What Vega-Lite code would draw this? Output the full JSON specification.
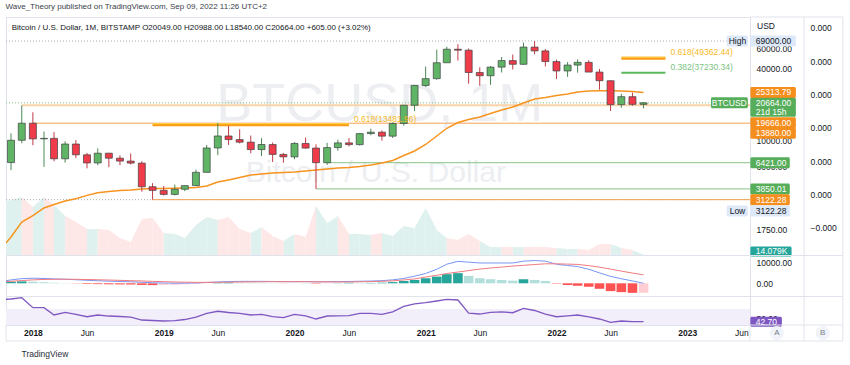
{
"$schema": "https://vega.github.io/schema/vega-lite/v6.json",
"width": 744,
"height": 308,
"autosize": {"type": "none"},
"padding": {"left": 6, "top": 17, "right": 100, "bottom": 40},
"background": "#ffffff",
"title": {"text": "Wave_Theory published on TradingView.com, Sep 09, 2022 11:26 UTC+2", "anchor": "start", "fontSize": 8, "fontWeight": "normal", "color": "#3a3e4a", "offset": 5},
"config": {"font": "Liberation Sans", "view": {"stroke": "#e0e3eb"}, "axis": {"labelFontSize": 8.5, "labelColor": "#131722", "ticks": false, "grid": false, "domain": false, "labelOverlap": false, "labelFlush": false}},
"datasets": {
"m": [
{"date":"2017-10-01","o":4360,"h":6470,"l":4110,"c":6440,"ema":1169,"vol":735,"macd":900,"sig":700,"hist":600,"rsi":90.4},
{"date":"2017-11-01","o":6440,"h":11395,"l":5555,"c":9947,"ema":1507,"vol":777,"macd":1650,"sig":1000,"hist":800,"rsi":91.5},
{"date":"2017-12-01","o":9947,"h":19666,"l":9380,"c":13880,"ema":2019,"vol":819,"macd":2300,"sig":1350,"hist":950,"rsi":94.3},
{"date":"2018-01-01","o":13880,"h":17176,"l":9035,"c":10221,"ema":2288,"vol":679,"macd":2500,"sig":1700,"hist":800,"rsi":72.8},
{"date":"2018-02-01","o":10221,"h":11789,"l":5920,"c":10326,"ema":2653,"vol":819,"macd":2400,"sig":1900,"hist":500,"rsi":72.8},
{"date":"2018-03-01","o":10326,"h":11680,"l":6605,"c":6926,"ema":2841,"vol":707,"macd":2150,"sig":2000,"hist":250,"rsi":57.1},
{"date":"2018-04-01","o":6926,"h":9759,"l":6426,"c":9246,"ema":3042,"vol":553,"macd":2000,"sig":2000,"hist":100,"rsi":62.9},
{"date":"2018-05-01","o":9246,"h":9990,"l":7032,"c":7494,"ema":3181,"vol":469,"macd":1750,"sig":1950,"hist":-100,"rsi":58.2},
{"date":"2018-06-01","o":7494,"h":7775,"l":5755,"c":6391,"ema":3393,"vol":371,"macd":1500,"sig":1850,"hist":-300,"rsi":53.4},
{"date":"2018-07-01","o":6391,"h":8488,"l":6110,"c":7730,"ema":3569,"vol":371,"macd":1250,"sig":1750,"hist":-400,"rsi":57.1},
{"date":"2018-08-01","o":7730,"h":7770,"l":5880,"c":7011,"ema":3661,"vol":357,"macd":1050,"sig":1600,"hist":-500,"rsi":54.9},
{"date":"2018-09-01","o":7011,"h":7410,"l":6123,"c":6626,"ema":3733,"vol":245,"macd":900,"sig":1450,"hist":-550,"rsi":53.9},
{"date":"2018-10-01","o":6626,"h":7680,"l":6200,"c":6371,"ema":3770,"vol":189,"macd":750,"sig":1300,"hist":-600,"rsi":52.4},
{"date":"2018-11-01","o":6371,"h":6590,"l":3652,"c":4017,"ema":3844,"vol":511,"macd":500,"sig":1150,"hist":-800,"rsi":46.3},
{"date":"2018-12-01","o":4017,"h":4310,"l":3122.28,"c":3742,"ema":3874,"vol":525,"macd":250,"sig":950,"hist":-900,"rsi":45.3},
{"date":"2019-01-01","o":3742,"h":4070,"l":3385,"c":3457,"ema":3882,"vol":315,"macd":150,"sig":800,"hist":-850,"rsi":44.2},
{"date":"2019-02-01","o":3457,"h":4190,"l":3390,"c":3823,"ema":3897,"vol":301,"macd":50,"sig":650,"hist":-700,"rsi":44.8},
{"date":"2019-03-01","o":3823,"h":4140,"l":3680,"c":4103,"ema":3920,"vol":245,"macd":100,"sig":550,"hist":-500,"rsi":47.4},
{"date":"2019-04-01","o":4103,"h":5600,"l":4080,"c":5321,"ema":3958,"vol":427,"macd":150,"sig":450,"hist":-300,"rsi":52.4},
{"date":"2019-05-01","o":5321,"h":9074,"l":5320,"c":8556,"ema":4076,"vol":539,"macd":400,"sig":450,"hist":-50,"rsi":60.8},
{"date":"2019-06-01","o":8556,"h":13880,"l":7440,"c":10817,"ema":4407,"vol":497,"macd":650,"sig":500,"hist":200,"rsi":65.1},
{"date":"2019-07-01","o":10817,"h":13150,"l":9080,"c":10081,"ema":4581,"vol":539,"macd":850,"sig":550,"hist":350,"rsi":62.5},
{"date":"2019-08-01","o":10081,"h":12320,"l":9360,"c":9588,"ema":4810,"vol":371,"macd":950,"sig":650,"hist":300,"rsi":60.8},
{"date":"2019-09-01","o":9588,"h":10920,"l":7720,"c":8294,"ema":5050,"vol":315,"macd":950,"sig":700,"hist":250,"rsi":57.1},
{"date":"2019-10-01","o":8294,"h":10370,"l":7300,"c":9152,"ema":5150,"vol":399,"macd":950,"sig":750,"hist":200,"rsi":58.6},
{"date":"2019-11-01","o":9152,"h":9518,"l":6520,"c":7546,"ema":5251,"vol":273,"macd":900,"sig":800,"hist":100,"rsi":53.4},
{"date":"2019-12-01","o":7546,"h":7750,"l":6425,"c":7196,"ema":5303,"vol":203,"macd":800,"sig":800,"hist":-50,"rsi":51.3},
{"date":"2020-01-01","o":7196,"h":9575,"l":6870,"c":9350,"ema":5355,"vol":301,"macd":800,"sig":800,"hist":-50,"rsi":58.6},
{"date":"2020-02-01","o":9350,"h":10500,"l":8450,"c":8544,"ema":5461,"vol":259,"macd":850,"sig":800,"hist":50,"rsi":55.4},
{"date":"2020-03-01","o":8544,"h":9185,"l":3850.01,"c":6421,"ema":5569,"vol":693,"macd":700,"sig":750,"hist":-200,"rsi":48.5},
{"date":"2020-04-01","o":6421,"h":9460,"l":6150,"c":8624,"ema":5678,"vol":455,"macd":750,"sig":700,"hist":-100,"rsi":54.9},
{"date":"2020-05-01","o":8624,"h":10070,"l":8110,"c":9450,"ema":5789,"vol":553,"macd":850,"sig":650,"hist":100,"rsi":55.4},
{"date":"2020-06-01","o":9450,"h":10380,"l":8830,"c":9137,"ema":5846,"vol":301,"macd":900,"sig":650,"hist":250,"rsi":55.6},
{"date":"2020-07-01","o":9137,"h":11450,"l":8980,"c":11335,"ema":5961,"vol":301,"macd":1000,"sig":750,"hist":200,"rsi":60.8},
{"date":"2020-08-01","o":11335,"h":12470,"l":10970,"c":11650,"ema":6140,"vol":287,"macd":1100,"sig":850,"hist":200,"rsi":60.8},
{"date":"2020-09-01","o":11650,"h":12060,"l":9880,"c":10780,"ema":6385,"vol":315,"macd":1300,"sig":1000,"hist":300,"rsi":58.6},
{"date":"2020-10-01","o":10780,"h":14100,"l":10400,"c":13800,"ema":6706,"vol":273,"macd":1700,"sig":1200,"hist":600,"rsi":63.8},
{"date":"2020-11-01","o":13800,"h":19850,"l":13200,"c":19700,"ema":7390,"vol":413,"macd":2400,"sig":1650,"hist":1150,"rsi":75.4},
{"date":"2020-12-01","o":19700,"h":29300,"l":17570,"c":28990,"ema":8069,"vol":385,"macd":3500,"sig":2150,"hist":1650,"rsi":80.8},
{"date":"2021-01-01","o":28990,"h":41950,"l":28130,"c":33110,"ema":9160,"vol":665,"macd":4850,"sig":3100,"hist":2500,"rsi":83.5},
{"date":"2021-02-01","o":33110,"h":58350,"l":32400,"c":45140,"ema":10813,"vol":357,"macd":6900,"sig":3950,"hist":3300,"rsi":87.2},
{"date":"2021-03-01","o":45140,"h":61790,"l":44950,"c":58790,"ema":12570,"vol":245,"macd":9400,"sig":4800,"hist":4500,"rsi":90.9},
{"date":"2021-04-01","o":58790,"h":64900,"l":47040,"c":57700,"ema":14070,"vol":217,"macd":10800,"sig":5550,"hist":5000,"rsi":89.4},
{"date":"2021-05-01","o":57700,"h":59600,"l":30000,"c":37300,"ema":14920,"vol":301,"macd":10400,"sig":6250,"hist":3650,"rsi":61.0},
{"date":"2021-06-01","o":37300,"h":41300,"l":28800,"c":35040,"ema":15670,"vol":203,"macd":10000,"sig":7000,"hist":2500,"rsi":59.2},
{"date":"2021-07-01","o":35040,"h":42320,"l":29300,"c":41460,"ema":16775,"vol":119,"macd":10000,"sig":7550,"hist":2000,"rsi":62.9},
{"date":"2021-08-01","o":41460,"h":50500,"l":37330,"c":47100,"ema":17960,"vol":119,"macd":10000,"sig":8000,"hist":1650,"rsi":64.0},
{"date":"2021-09-01","o":47100,"h":52920,"l":39600,"c":43820,"ema":19040,"vol":119,"macd":10000,"sig":8500,"hist":1300,"rsi":62.0},
{"date":"2021-10-01","o":43820,"h":66970,"l":43300,"c":61300,"ema":20590,"vol":119,"macd":10900,"sig":8850,"hist":2000,"rsi":71.5},
{"date":"2021-11-01","o":61300,"h":69000,"l":53300,"c":56900,"ema":22260,"vol":119,"macd":11200,"sig":9250,"hist":1650,"rsi":66.8},
{"date":"2021-12-01","o":56900,"h":59050,"l":42000,"c":46200,"ema":22920,"vol":119,"macd":10900,"sig":9600,"hist":1150,"rsi":59.2},
{"date":"2022-01-01","o":46200,"h":47990,"l":32950,"c":38480,"ema":23840,"vol":105,"macd":9400,"sig":9600,"hist":-200,"rsi":53.4},
{"date":"2022-02-01","o":38480,"h":45800,"l":34300,"c":43160,"ema":24540,"vol":91,"macd":8750,"sig":9450,"hist":-850,"rsi":55.4},
{"date":"2022-03-01","o":43160,"h":48190,"l":37200,"c":45510,"ema":25510,"vol":91,"macd":8250,"sig":9300,"hist":-1200,"rsi":57.1},
{"date":"2022-04-01","o":45510,"h":47450,"l":37700,"c":37640,"ema":26020,"vol":77,"macd":6900,"sig":8700,"hist":-1700,"rsi":53.2},
{"date":"2022-05-01","o":37640,"h":40030,"l":26700,"c":31790,"ema":26170,"vol":161,"macd":5150,"sig":7950,"hist":-2700,"rsi":48.5},
{"date":"2022-06-01","o":31790,"h":31990,"l":17600,"c":19940,"ema":26120,"vol":161,"macd":3400,"sig":7000,"hist":-3850,"rsi":41.4},
{"date":"2022-07-01","o":19940,"h":24670,"l":18780,"c":23290,"ema":26020,"vol":105,"macd":2250,"sig":6000,"hist":-4350,"rsi":44.2},
{"date":"2022-08-01","o":23290,"h":25210,"l":19540,"c":20049,"ema":25770,"vol":77,"macd":1150,"sig":5050,"hist":-4700,"rsi":42.7},
{"date":"2022-09-01","o":20049,"h":20988,"l":18540,"c":20664,"ema":25313.79,"vol":14.079,"macd":0,"sig":4150,"hist":-4650,"rsi":42.7}
],
"fib": [
{"label":"0.618(13481.96)","ratio":0.618,"p":13481.96,"from":"2018-12-01","to":"2020-06-01"},
{"label":"0.618(49362.44)","ratio":0.618,"p":49362.44,"from":"2022-07-01","to":"2022-11-01"},
{"label":"0.382(37230.34)","ratio":0.382,"p":37230.34,"from":"2022-07-01","to":"2022-11-01"}
],
"tags": [
{"p":69000,"t":"69000.00","src":"high"},
{"p":25313.79,"t":"25313.79","src":"ma"},
{"p":6421,"t":"6421.00","src":"green"},
{"p":3850.01,"t":"3850.01","src":"green"},
{"p":3122.28,"t":"3122.28","src":"orange"}
]
},
"data": {"name": "m", "format": {"parse": {"date": "date"}}},
"resolve": {"scale": {"y": "independent"}, "axis": {"x": "independent", "y": "independent"}},
"layer": [
{"layer": [
 {"transform": [
   {"window": [{"op": "lag", "field": "date", "as": "pd"}, {"op": "lag", "field": "vol", "as": "pv"}], "sort": [{"field": "date", "order": "ascending"}]},
   {"fold": ["pd", "date"], "as": ["dk", "d"]},
   {"fold": ["pv", "vol"], "as": ["vk", "v"]},
   {"filter": "datum.pd != null && ((datum.dk == 'date') == (datum.vk == 'vol'))"},
   {"filter": "datum.c >= datum.o"}],
  "mark": {"type": "area", "color": "#dff1ee", "clip": true},
  "encoding": {
   "x": {"field": "d", "type": "temporal", "scale": {"type":"utc","padding":0,"domain":[{"year":2017,"month":10,"date":18,"utc":true},{"year":2023,"month":6,"date":25,"utc":true}]}, "axis": null},
   "y": {"field": "v", "type": "quantitative", "scale": {"padding": 0, "domain": [0, 3339], "range": [238.5, 0]}, "axis": null, "stack": null},
   "detail": {"field": "date", "type": "nominal"}}},
 {"transform": [
   {"window": [{"op": "lag", "field": "date", "as": "pd"}, {"op": "lag", "field": "vol", "as": "pv"}], "sort": [{"field": "date", "order": "ascending"}]},
   {"fold": ["pd", "date"], "as": ["dk", "d"]},
   {"fold": ["pv", "vol"], "as": ["vk", "v"]},
   {"filter": "datum.pd != null && ((datum.dk == 'date') == (datum.vk == 'vol'))"},
   {"filter": "datum.c < datum.o"}],
  "mark": {"type": "area", "color": "#fde7e7", "clip": true},
  "encoding": {
   "x": {"field": "d", "type": "temporal", "scale": {"type":"utc","padding":0,"domain":[{"year":2017,"month":10,"date":18,"utc":true},{"year":2023,"month":6,"date":25,"utc":true}]}, "axis": null},
   "y": {"field": "v", "type": "quantitative", "scale": {"padding": 0, "domain": [0, 3339], "range": [238.5, 0]}, "axis": null, "stack": null},
   "detail": {"field": "date", "type": "nominal"}}},
 {"data": {"values": [{"v": 14.079, "t": "14.079K"}]},
  "layer": [
   {"mark": {"type": "bar", "size": 10, "color": "#26a69a", "cornerRadius": 1.5, "yOffset": -3},
    "encoding": {"x": {"datum": {"year":2023,"month":6,"date":26,"utc":true}, "type": "temporal", "scale": {"type":"utc","padding":0,"domain":[{"year":2017,"month":10,"date":18,"utc":true},{"year":2023,"month":6,"date":25,"utc":true}]}, "axis": null}, "x2": {"datum": {"year":2023,"month":10,"date":19,"utc":true}}, "y": {"field": "v", "type": "quantitative", "scale": {"padding": 0, "domain": [0, 3339], "range": [238.5, 0]}, "axis": null}}},
   {"mark": {"type": "text", "align": "left", "baseline": "middle", "fontSize": 8.5, "color": "#ffffff", "yOffset": -3},
    "encoding": {"x": {"datum": {"year":2023,"month":7,"date":11,"utc":true}, "type": "temporal", "scale": {"type":"utc","padding":0,"domain":[{"year":2017,"month":10,"date":18,"utc":true},{"year":2023,"month":6,"date":25,"utc":true}]}, "axis": null}, "y": {"field": "v", "type": "quantitative", "scale": {"padding": 0, "domain": [0, 3339], "range": [238.5, 0]}, "axis": null}, "text": {"field": "t"}}}
  ]}
]},
{"layer": [
 {"data": {"values": [{"t": "BTCUSD, 1M"}]},
  "mark": {"type": "text", "fontSize": 54, "color": "#eceef1", "align": "center", "baseline": "middle"},
  "encoding": {"x": {"datum": {"year":2020,"month":8,"date":26,"utc":true}, "type": "temporal", "scale": {"type":"utc","padding":0,"domain":[{"year":2017,"month":10,"date":18,"utc":true},{"year":2023,"month":6,"date":25,"utc":true}]}, "axis": null}, "y": {"datum": 19800, "type": "quantitative", "scale": {"type": "log", "padding": 0, "domain": [1050, 110250], "range": [238.5, 0]}, "axis": null}, "text": {"field": "t"}}},
 {"data": {"values": [{"t": "Bitcoin / U.S. Dollar"}]},
  "mark": {"type": "text", "fontSize": 30, "color": "#eceef1", "align": "center", "baseline": "middle"},
  "encoding": {"x": {"datum": {"year":2020,"month":8,"date":15,"utc":true}, "type": "temporal", "scale": {"type":"utc","padding":0,"domain":[{"year":2017,"month":10,"date":18,"utc":true},{"year":2023,"month":6,"date":25,"utc":true}]}, "axis": null}, "y": {"datum": 5251, "type": "quantitative", "scale": {"type": "log", "padding": 0, "domain": [1050, 110250], "range": [238.5, 0]}, "axis": null}, "text": {"field": "t"}}},
 {"data": {"values": [{"p": 69000}, {"p": 3122.28}]},
  "mark": {"type": "rule", "color": "#a9acb5", "strokeDash": [1, 2], "strokeWidth": 1},
  "encoding": {"x": {"datum": {"year":2017,"month":10,"date":18,"utc":true}, "type": "temporal", "scale": {"type":"utc","padding":0,"domain":[{"year":2017,"month":10,"date":18,"utc":true},{"year":2023,"month":6,"date":25,"utc":true}]}, "axis": null}, "x2": {"datum": {"year":2023,"month":6,"date":25,"utc":true}}, "y": {"field": "p", "type": "quantitative", "scale": {"type": "log", "padding": 0, "domain": [1050, 110250], "range": [238.5, 0]}, "axis": null}}},
 {"data": {"values": [{"p": 20664}]},
  "mark": {"type": "rule", "color": "#80c483", "strokeDash": [1, 2], "strokeWidth": 1},
  "encoding": {"x": {"datum": {"year":2017,"month":10,"date":18,"utc":true}, "type": "temporal", "scale": {"type":"utc","padding":0,"domain":[{"year":2017,"month":10,"date":18,"utc":true},{"year":2023,"month":6,"date":25,"utc":true}]}, "axis": null}, "x2": {"datum": {"year":2023,"month":6,"date":25,"utc":true}}, "y": {"field": "p", "type": "quantitative", "scale": {"type": "log", "padding": 0, "domain": [1050, 110250], "range": [238.5, 0]}, "axis": null}}},
 {"data": {"values": [{"p": 19666, "from": "2017-12-01"}]},
  "mark": {"type": "rule", "color": "#fbd3a8", "strokeWidth": 2, "clip": true},
  "encoding": {"x": {"field": "from", "type": "temporal", "scale": {"type":"utc","padding":0,"domain":[{"year":2017,"month":10,"date":18,"utc":true},{"year":2023,"month":6,"date":25,"utc":true}]}, "axis": null}, "x2": {"datum": {"year":2023,"month":6,"date":25,"utc":true}}, "y": {"field": "p", "type": "quantitative", "scale": {"type": "log", "padding": 0, "domain": [1050, 110250], "range": [238.5, 0]}, "axis": null}}},
 {"data": {"values": [{"p": 13880, "from": "2018-01-01"}, {"p": 3122.28, "from": "2018-12-01"}]},
  "mark": {"type": "rule", "color": "#f6a351", "strokeWidth": 1, "clip": true},
  "encoding": {"x": {"field": "from", "type": "temporal", "scale": {"type":"utc","padding":0,"domain":[{"year":2017,"month":10,"date":18,"utc":true},{"year":2023,"month":6,"date":25,"utc":true}]}, "axis": null}, "x2": {"datum": {"year":2023,"month":6,"date":25,"utc":true}}, "y": {"field": "p", "type": "quantitative", "scale": {"type": "log", "padding": 0, "domain": [1050, 110250], "range": [238.5, 0]}, "axis": null}}},
 {"data": {"values": [{"p": 6421, "from": "2020-04-01"}, {"p": 3850.01, "from": "2020-03-01"}]},
  "mark": {"type": "rule", "color": "#86c487", "strokeWidth": 1, "clip": true},
  "encoding": {"x": {"field": "from", "type": "temporal", "scale": {"type":"utc","padding":0,"domain":[{"year":2017,"month":10,"date":18,"utc":true},{"year":2023,"month":6,"date":25,"utc":true}]}, "axis": null}, "x2": {"datum": {"year":2023,"month":6,"date":25,"utc":true}}, "y": {"field": "p", "type": "quantitative", "scale": {"type": "log", "padding": 0, "domain": [1050, 110250], "range": [238.5, 0]}, "axis": null}}},
 {"data": {"name": "fib"}, "transform": [{"filter": "datum.ratio == 0.618"}],
  "mark": {"type": "rule", "color": "#fb9c14", "strokeWidth": 3},
  "encoding": {"x": {"field": "from", "type": "temporal", "scale": {"type":"utc","padding":0,"domain":[{"year":2017,"month":10,"date":18,"utc":true},{"year":2023,"month":6,"date":25,"utc":true}]}, "axis": null}, "x2": {"field": "to"}, "y": {"field": "p", "type": "quantitative", "scale": {"type": "log", "padding": 0, "domain": [1050, 110250], "range": [238.5, 0]}, "axis": null}}},
 {"data": {"name": "fib"}, "transform": [{"filter": "datum.ratio == 0.618"}],
  "mark": {"type": "rule", "color": "#ffd54f", "strokeWidth": 1, "yOffset": -1},
  "encoding": {"x": {"field": "from", "type": "temporal", "scale": {"type":"utc","padding":0,"domain":[{"year":2017,"month":10,"date":18,"utc":true},{"year":2023,"month":6,"date":25,"utc":true}]}, "axis": null}, "x2": {"field": "to"}, "y": {"field": "p", "type": "quantitative", "scale": {"type": "log", "padding": 0, "domain": [1050, 110250], "range": [238.5, 0]}, "axis": null}}},
 {"data": {"name": "fib"}, "transform": [{"filter": "datum.ratio == 0.382"}],
  "mark": {"type": "rule", "color": "#5cb85c", "strokeWidth": 2},
  "encoding": {"x": {"field": "from", "type": "temporal", "scale": {"type":"utc","padding":0,"domain":[{"year":2017,"month":10,"date":18,"utc":true},{"year":2023,"month":6,"date":25,"utc":true}]}, "axis": null}, "x2": {"field": "to"}, "y": {"field": "p", "type": "quantitative", "scale": {"type": "log", "padding": 0, "domain": [1050, 110250], "range": [238.5, 0]}, "axis": null}}},
 {"mark": {"type": "line", "color": "#f7931e", "strokeWidth": 1.5, "clip": true},
  "encoding": {"x": {"field": "date", "type": "temporal", "scale": {"type":"utc","padding":0,"domain":[{"year":2017,"month":10,"date":18,"utc":true},{"year":2023,"month":6,"date":25,"utc":true}]}, "axis": null},
   "y": {"field": "ema", "type": "quantitative", "scale": {"type": "log", "padding": 0, "domain": [1050, 110250], "range": [238.5, 0]}, "axis": null}}},
 {"mark": {"type": "rule", "strokeWidth": 1, "clip": true},
  "encoding": {"x": {"field": "date", "type": "temporal", "scale": {"type":"utc","padding":0,"domain":[{"year":2017,"month":10,"date":18,"utc":true},{"year":2023,"month":6,"date":25,"utc":true}]}, "axis": null},
   "y": {"field": "l", "type": "quantitative", "scale": {"type": "log", "padding": 0, "domain": [1050, 110250], "range": [238.5, 0]}, "axis": null}, "y2": {"field": "h"},
   "color": {"condition": {"test": "datum.c >= datum.o", "value": "#4a8a55"}, "value": "#c23b47"}}},
 {"mark": {"type": "bar", "size": 7, "stroke": "#3f4043", "strokeWidth": 0.7, "clip": true},
  "encoding": {"x": {"field": "date", "type": "temporal", "scale": {"type":"utc","padding":0,"domain":[{"year":2017,"month":10,"date":18,"utc":true},{"year":2023,"month":6,"date":25,"utc":true}]}, "axis": null},
   "y": {"field": "o", "type": "quantitative", "scale": {"type": "log", "padding": 0, "domain": [1050, 110250], "range": [238.5, 0]}, "axis": null}, "y2": {"field": "c"},
   "color": {"condition": {"test": "datum.c >= datum.o", "value": "#5fb565"}, "value": "#ef3b4a"}}},
 {"data": {"name": "fib"},
  "mark": {"type": "text", "align": "left", "baseline": "bottom", "dx": 5, "dy": -1, "fontSize": 8.5},
  "encoding": {"x": {"field": "to", "type": "temporal", "scale": {"type":"utc","padding":0,"domain":[{"year":2017,"month":10,"date":18,"utc":true},{"year":2023,"month":6,"date":25,"utc":true}]}, "axis": null}, "y": {"field": "p", "type": "quantitative", "scale": {"type": "log", "padding": 0, "domain": [1050, 110250], "range": [238.5, 0]}, "axis": null}, "text": {"field": "label"},
   "color": {"condition": {"test": "datum.ratio == 0.382", "value": "#7cc47f"}, "value": "#f7b924"}}},
 {"data": {"values": [{"t": "Bitcoin / U.S. Dollar, 1M, BITSTAMP  O20049.00  H20988.00  L18540.00  C20664.00  +605.00 (+3.02%)"}]},
  "mark": {"type": "text", "align": "left", "baseline": "middle", "fontSize": 8, "color": "#131722"},
  "encoding": {"x": {"datum": {"year":2017,"month":11,"date":3,"utc":true}, "type": "temporal", "scale": {"type":"utc","padding":0,"domain":[{"year":2017,"month":10,"date":18,"utc":true},{"year":2023,"month":6,"date":25,"utc":true}]}, "axis": null}, "y": {"datum": 89800, "type": "quantitative", "scale": {"type": "log", "padding": 0, "domain": [1050, 110250], "range": [238.5, 0]}, "axis": null}, "text": {"field": "t"}}},
 {"data": {"name": "tags"}, "transform": [{"filter": "length(datum.t) == 8"}],
  "mark": {"type": "bar", "size": 11, "cornerRadius": 1.5},
  "encoding": {"x": {"datum": {"year":2023,"month":6,"date":26,"utc":true}, "type": "temporal", "scale": {"type":"utc","padding":0,"domain":[{"year":2017,"month":10,"date":18,"utc":true},{"year":2023,"month":6,"date":25,"utc":true}]}, "axis": null}, "x2": {"datum": {"year":2023,"month":10,"date":31,"utc":true}}, "y": {"field": "p", "type": "quantitative", "scale": {"type": "log", "padding": 0, "domain": [1050, 110250], "range": [238.5, 0]}, "axis": null},
   "color": {"condition": [{"test": "datum.src == 'high'", "value": "#dde9f8"}, {"test": "datum.src == 'green'", "value": "#56ad5a"}], "value": "#f68e1e"}}},
 {"data": {"name": "tags"}, "transform": [{"filter": "length(datum.t) == 7"}],
  "mark": {"type": "bar", "size": 11, "cornerRadius": 1.5},
  "encoding": {"x": {"datum": {"year":2023,"month":6,"date":26,"utc":true}, "type": "temporal", "scale": {"type":"utc","padding":0,"domain":[{"year":2017,"month":10,"date":18,"utc":true},{"year":2023,"month":6,"date":25,"utc":true}]}, "axis": null}, "x2": {"datum": {"year":2023,"month":10,"date":14,"utc":true}}, "y": {"field": "p", "type": "quantitative", "scale": {"type": "log", "padding": 0, "domain": [1050, 110250], "range": [238.5, 0]}, "axis": null},
   "color": {"condition": [{"test": "datum.src == 'high'", "value": "#dde9f8"}, {"test": "datum.src == 'green'", "value": "#56ad5a"}], "value": "#f68e1e"}}},
 {"data": {"name": "tags"},
  "mark": {"type": "text", "align": "left", "baseline": "middle", "fontSize": 8.5},
  "encoding": {"x": {"datum": {"year":2023,"month":7,"date":11,"utc":true}, "type": "temporal", "scale": {"type":"utc","padding":0,"domain":[{"year":2017,"month":10,"date":18,"utc":true},{"year":2023,"month":6,"date":25,"utc":true}]}, "axis": null}, "y": {"field": "p", "type": "quantitative", "scale": {"type": "log", "padding": 0, "domain": [1050, 110250], "range": [238.5, 0]}, "axis": null}, "text": {"field": "t"},
   "color": {"condition": {"test": "datum.src == 'high'", "value": "#131722"}, "value": "#ffffff"}}},
 {"data": {"values": [{"p": 19666, "t": "19666.00"}]},
  "layer": [
   {"mark": {"type": "bar", "size": 11, "cornerRadius": 1.5, "color": "#f68e1e", "yOffset": 17.4},
    "encoding": {"x": {"datum": {"year":2023,"month":6,"date":26,"utc":true}, "type": "temporal", "scale": {"type":"utc","padding":0,"domain":[{"year":2017,"month":10,"date":18,"utc":true},{"year":2023,"month":6,"date":25,"utc":true}]}, "axis": null}, "x2": {"datum": {"year":2023,"month":10,"date":31,"utc":true}}, "y": {"field": "p", "type": "quantitative", "scale": {"type": "log", "padding": 0, "domain": [1050, 110250], "range": [238.5, 0]}, "axis": null}}},
   {"mark": {"type": "text", "align": "left", "baseline": "middle", "fontSize": 8.5, "color": "#ffffff", "yOffset": 17.4},
    "encoding": {"x": {"datum": {"year":2023,"month":7,"date":11,"utc":true}, "type": "temporal", "scale": {"type":"utc","padding":0,"domain":[{"year":2017,"month":10,"date":18,"utc":true},{"year":2023,"month":6,"date":25,"utc":true}]}, "axis": null}, "y": {"field": "p", "type": "quantitative", "scale": {"type": "log", "padding": 0, "domain": [1050, 110250], "range": [238.5, 0]}, "axis": null}, "text": {"field": "t"}}}
  ]},
 {"data": {"values": [{"p": 13880, "t": "13880.00"}]},
  "layer": [
   {"mark": {"type": "bar", "size": 11, "cornerRadius": 1.5, "color": "#f68e1e", "yOffset": 10.1},
    "encoding": {"x": {"datum": {"year":2023,"month":6,"date":26,"utc":true}, "type": "temporal", "scale": {"type":"utc","padding":0,"domain":[{"year":2017,"month":10,"date":18,"utc":true},{"year":2023,"month":6,"date":25,"utc":true}]}, "axis": null}, "x2": {"datum": {"year":2023,"month":10,"date":31,"utc":true}}, "y": {"field": "p", "type": "quantitative", "scale": {"type": "log", "padding": 0, "domain": [1050, 110250], "range": [238.5, 0]}, "axis": null}}},
   {"mark": {"type": "text", "align": "left", "baseline": "middle", "fontSize": 8.5, "color": "#ffffff", "yOffset": 10.1},
    "encoding": {"x": {"datum": {"year":2023,"month":7,"date":11,"utc":true}, "type": "temporal", "scale": {"type":"utc","padding":0,"domain":[{"year":2017,"month":10,"date":18,"utc":true},{"year":2023,"month":6,"date":25,"utc":true}]}, "axis": null}, "y": {"field": "p", "type": "quantitative", "scale": {"type": "log", "padding": 0, "domain": [1050, 110250], "range": [238.5, 0]}, "axis": null}, "text": {"field": "t"}}}
  ]},
 {"data": {"values": [{"p": 3122.28, "t": "3122.28", "k": "Low"}]},
  "layer": [
   {"mark": {"type": "bar", "size": 11, "cornerRadius": 1.5, "color": "#dde9f8", "yOffset": 11.3},
    "encoding": {"x": {"datum": {"year":2023,"month":6,"date":26,"utc":true}, "type": "temporal", "scale": {"type":"utc","padding":0,"domain":[{"year":2017,"month":10,"date":18,"utc":true},{"year":2023,"month":6,"date":25,"utc":true}]}, "axis": null}, "x2": {"datum": {"year":2023,"month":10,"date":14,"utc":true}}, "y": {"field": "p", "type": "quantitative", "scale": {"type": "log", "padding": 0, "domain": [1050, 110250], "range": [238.5, 0]}, "axis": null}}},
   {"mark": {"type": "text", "align": "left", "baseline": "middle", "fontSize": 8.5, "color": "#131722", "yOffset": 11.3},
    "encoding": {"x": {"datum": {"year":2023,"month":7,"date":11,"utc":true}, "type": "temporal", "scale": {"type":"utc","padding":0,"domain":[{"year":2017,"month":10,"date":18,"utc":true},{"year":2023,"month":6,"date":25,"utc":true}]}, "axis": null}, "y": {"field": "p", "type": "quantitative", "scale": {"type": "log", "padding": 0, "domain": [1050, 110250], "range": [238.5, 0]}, "axis": null}, "text": {"field": "t"}}},
   {"mark": {"type": "bar", "size": 11, "cornerRadius": 1.5, "color": "#dde9f8", "yOffset": 11.3},
    "encoding": {"x": {"datum": {"year":2023,"month":4,"date":21,"utc":true}, "type": "temporal", "scale": {"type":"utc","padding":0,"domain":[{"year":2017,"month":10,"date":18,"utc":true},{"year":2023,"month":6,"date":25,"utc":true}]}, "axis": null}, "x2": {"datum": {"year":2023,"month":6,"date":19,"utc":true}}, "y": {"field": "p", "type": "quantitative", "scale": {"type": "log", "padding": 0, "domain": [1050, 110250], "range": [238.5, 0]}, "axis": null}}},
   {"mark": {"type": "text", "align": "center", "baseline": "middle", "fontSize": 8.5, "color": "#131722", "yOffset": 11.3},
    "encoding": {"x": {"datum": {"year":2023,"month":5,"date":21,"utc":true}, "type": "temporal", "scale": {"type":"utc","padding":0,"domain":[{"year":2017,"month":10,"date":18,"utc":true},{"year":2023,"month":6,"date":25,"utc":true}]}, "axis": null}, "y": {"field": "p", "type": "quantitative", "scale": {"type": "log", "padding": 0, "domain": [1050, 110250], "range": [238.5, 0]}, "axis": null}, "text": {"field": "k"}}}
  ]},
 {"data": {"values": [{"p": 69000, "k": "High"}]},
  "layer": [
   {"mark": {"type": "bar", "size": 11, "cornerRadius": 1.5, "color": "#dde9f8"},
    "encoding": {"x": {"datum": {"year":2023,"month":4,"date":21,"utc":true}, "type": "temporal", "scale": {"type":"utc","padding":0,"domain":[{"year":2017,"month":10,"date":18,"utc":true},{"year":2023,"month":6,"date":25,"utc":true}]}, "axis": null}, "x2": {"datum": {"year":2023,"month":6,"date":19,"utc":true}}, "y": {"field": "p", "type": "quantitative", "scale": {"type": "log", "padding": 0, "domain": [1050, 110250], "range": [238.5, 0]}, "axis": null}}},
   {"mark": {"type": "text", "align": "center", "baseline": "middle", "fontSize": 8.5, "color": "#131722"},
    "encoding": {"x": {"datum": {"year":2023,"month":5,"date":21,"utc":true}, "type": "temporal", "scale": {"type":"utc","padding":0,"domain":[{"year":2017,"month":10,"date":18,"utc":true},{"year":2023,"month":6,"date":25,"utc":true}]}, "axis": null}, "y": {"field": "p", "type": "quantitative", "scale": {"type": "log", "padding": 0, "domain": [1050, 110250], "range": [238.5, 0]}, "axis": null}, "text": {"field": "k"}}}
  ]},
 {"data": {"values": [{"p": 20664, "t": "20664.00", "cd": "21d 15h", "sym": "BTCUSD"}]},
  "layer": [
   {"mark": {"type": "bar", "size": 19, "cornerRadius": 1.5, "color": "#56ad5a", "yOffset": 4.4},
    "encoding": {"x": {"datum": {"year":2023,"month":6,"date":26,"utc":true}, "type": "temporal", "scale": {"type":"utc","padding":0,"domain":[{"year":2017,"month":10,"date":18,"utc":true},{"year":2023,"month":6,"date":25,"utc":true}]}, "axis": null}, "x2": {"datum": {"year":2023,"month":10,"date":31,"utc":true}}, "y": {"field": "p", "type": "quantitative", "scale": {"type": "log", "padding": 0, "domain": [1050, 110250], "range": [238.5, 0]}, "axis": null}}},
   {"mark": {"type": "text", "align": "left", "baseline": "middle", "fontSize": 8.5, "color": "#ffffff", "yOffset": -0.3},
    "encoding": {"x": {"datum": {"year":2023,"month":7,"date":11,"utc":true}, "type": "temporal", "scale": {"type":"utc","padding":0,"domain":[{"year":2017,"month":10,"date":18,"utc":true},{"year":2023,"month":6,"date":25,"utc":true}]}, "axis": null}, "y": {"field": "p", "type": "quantitative", "scale": {"type": "log", "padding": 0, "domain": [1050, 110250], "range": [238.5, 0]}, "axis": null}, "text": {"field": "t"}}},
   {"mark": {"type": "text", "align": "left", "baseline": "middle", "fontSize": 8.5, "color": "#ffffff", "yOffset": 8.7},
    "encoding": {"x": {"datum": {"year":2023,"month":7,"date":11,"utc":true}, "type": "temporal", "scale": {"type":"utc","padding":0,"domain":[{"year":2017,"month":10,"date":18,"utc":true},{"year":2023,"month":6,"date":25,"utc":true}]}, "axis": null}, "y": {"field": "p", "type": "quantitative", "scale": {"type": "log", "padding": 0, "domain": [1050, 110250], "range": [238.5, 0]}, "axis": null}, "text": {"field": "cd"}}},
   {"mark": {"type": "bar", "size": 11, "cornerRadius": 1.5, "color": "#56ad5a"},
    "encoding": {"x": {"datum": {"year":2023,"month":3,"date":8,"utc":true}, "type": "temporal", "scale": {"type":"utc","padding":0,"domain":[{"year":2017,"month":10,"date":18,"utc":true},{"year":2023,"month":6,"date":25,"utc":true}]}, "axis": null}, "x2": {"datum": {"year":2023,"month":6,"date":19,"utc":true}}, "y": {"field": "p", "type": "quantitative", "scale": {"type": "log", "padding": 0, "domain": [1050, 110250], "range": [238.5, 0]}, "axis": null}}},
   {"mark": {"type": "text", "align": "center", "baseline": "middle", "fontSize": 8.5, "color": "#ffffff"},
    "encoding": {"x": {"datum": {"year":2023,"month":4,"date":28,"utc":true}, "type": "temporal", "scale": {"type":"utc","padding":0,"domain":[{"year":2017,"month":10,"date":18,"utc":true},{"year":2023,"month":6,"date":25,"utc":true}]}, "axis": null}, "y": {"field": "p", "type": "quantitative", "scale": {"type": "log", "padding": 0, "domain": [1050, 110250], "range": [238.5, 0]}, "axis": null}, "text": {"field": "sym"}}}
  ]},
 {"data": {"values": [{}]},
  "mark": {"type": "rule", "color": "#e0e3eb"},
  "encoding": {"x": {"datum": {"year":2023,"month":6,"date":25,"utc":true}, "type": "temporal", "scale": {"type":"utc","padding":0,"domain":[{"year":2017,"month":10,"date":18,"utc":true},{"year":2023,"month":6,"date":25,"utc":true}]}, "axis": null}, "x2": {"datum": {"year":2024,"month":3,"date":10,"utc":true}}, "y": {"datum": 110250, "type": "quantitative", "scale": {"type": "log", "padding": 0, "domain": [1050, 110250], "range": [238.5, 0]}, "axis": null}}}
]},
{"layer": [
 {"transform": [{"window": [{"op": "lag", "field": "hist", "as": "ph"}], "sort": [{"field": "date", "order": "ascending"}]}],
  "mark": {"type": "bar", "size": 9.6, "clip": true},
  "encoding": {"x": {"field": "date", "type": "temporal", "scale": {"type":"utc","padding":0,"domain":[{"year":2017,"month":10,"date":18,"utc":true},{"year":2023,"month":6,"date":25,"utc":true}]}, "axis": null},
   "y": {"field": "hist", "type": "quantitative", "scale": {"padding": 0, "domain": [-6500, 13200], "range": [279.5, 239.5]}, "axis": null}, "y2": {"datum": 0},
   "color": {"condition": [
     {"test": "datum.hist >= 0 && (datum.ph == null || datum.hist >= datum.ph)", "value": "#26a69a"},
     {"test": "datum.hist >= 0", "value": "#b2dfdb"},
     {"test": "datum.ph == null || datum.hist < datum.ph", "value": "#ff5252"}], "value": "#ffcdd2"}}},
 {"mark": {"type": "line", "color": "#7696f6", "strokeWidth": 1, "clip": true},
  "encoding": {"x": {"field": "date", "type": "temporal", "scale": {"type":"utc","padding":0,"domain":[{"year":2017,"month":10,"date":18,"utc":true},{"year":2023,"month":6,"date":25,"utc":true}]}, "axis": null},
   "y": {"field": "macd", "type": "quantitative", "scale": {"padding": 0, "domain": [-6500, 13200], "range": [279.5, 239.5]}, "axis": null}}},
 {"mark": {"type": "line", "color": "#f27a7e", "strokeWidth": 1, "clip": true},
  "encoding": {"x": {"field": "date", "type": "temporal", "scale": {"type":"utc","padding":0,"domain":[{"year":2017,"month":10,"date":18,"utc":true},{"year":2023,"month":6,"date":25,"utc":true}]}, "axis": null},
   "y": {"field": "sig", "type": "quantitative", "scale": {"padding": 0, "domain": [-6500, 13200], "range": [279.5, 239.5]}, "axis": null}}},
 {"data": {"values": [{"v": 13690}, {"v": -6500}]},
  "mark": {"type": "rule", "color": "#e0e3eb"},
  "encoding": {"x": {"datum": {"year":2017,"month":10,"date":18,"utc":true}, "type": "temporal", "scale": {"type":"utc","padding":0,"domain":[{"year":2017,"month":10,"date":18,"utc":true},{"year":2023,"month":6,"date":25,"utc":true}]}, "axis": null}, "x2": {"datum": {"year":2024,"month":3,"date":10,"utc":true}},
   "y": {"field": "v", "type": "quantitative", "scale": {"padding": 0, "domain": [-6500, 13200], "range": [279.5, 239.5]}, "axis": null}}}
]},
{"layer": [
 {"data": {"values": [{}]},
  "mark": {"type": "rect", "color": "#f3effa", "clip": true},
  "encoding": {"x": {"datum": {"year":2017,"month":10,"date":18,"utc":true}, "type": "temporal", "scale": {"type":"utc","padding":0,"domain":[{"year":2017,"month":10,"date":18,"utc":true},{"year":2023,"month":6,"date":25,"utc":true}]}, "axis": null}, "x2": {"datum": {"year":2023,"month":6,"date":25,"utc":true}},
   "y": {"datum": 70, "type": "quantitative", "scale": {"padding": 0, "domain": [35.6, 95.8], "range": [308, 280]}, "axis": null}, "y2": {"datum": 30}}},
 {"mark": {"type": "line", "color": "#7e57c2", "strokeWidth": 1.3, "clip": true},
  "encoding": {"x": {"field": "date", "type": "temporal", "scale": {"type":"utc","padding":0,"domain":[{"year":2017,"month":10,"date":18,"utc":true},{"year":2023,"month":6,"date":25,"utc":true}]}, "axis": null},
   "y": {"field": "rsi", "type": "quantitative", "scale": {"padding": 0, "domain": [35.6, 95.8], "range": [308, 280]}, "axis": null}}},
 {"data": {"values": [{"r": 42.7, "t": "42.70"}]},
  "layer": [
   {"mark": {"type": "bar", "size": 10, "color": "#7e57c2", "cornerRadius": 1.5},
    "encoding": {"x": {"datum": {"year":2023,"month":6,"date":26,"utc":true}, "type": "temporal", "scale": {"type":"utc","padding":0,"domain":[{"year":2017,"month":10,"date":18,"utc":true},{"year":2023,"month":6,"date":25,"utc":true}]}, "axis": null}, "x2": {"datum": {"year":2023,"month":9,"date":22,"utc":true}}, "y": {"field": "r", "type": "quantitative", "scale": {"padding": 0, "domain": [35.6, 95.8], "range": [308, 280]}, "axis": null}}},
   {"mark": {"type": "text", "align": "left", "baseline": "middle", "fontSize": 8.5, "color": "#ffffff"},
    "encoding": {"x": {"datum": {"year":2023,"month":7,"date":11,"utc":true}, "type": "temporal", "scale": {"type":"utc","padding":0,"domain":[{"year":2017,"month":10,"date":18,"utc":true},{"year":2023,"month":6,"date":25,"utc":true}]}, "axis": null}, "y": {"field": "r", "type": "quantitative", "scale": {"padding": 0, "domain": [35.6, 95.8], "range": [308, 280]}, "axis": null}, "text": {"field": "t"}}}
  ]},
 {"data": {"values": [{}]},
  "mark": {"type": "rule", "color": "#e0e3eb"},
  "encoding": {"x": {"datum": {"year":2023,"month":6,"date":25,"utc":true}, "type": "temporal", "scale": {"type":"utc","padding":0,"domain":[{"year":2017,"month":10,"date":18,"utc":true},{"year":2023,"month":6,"date":25,"utc":true}]}, "axis": null}, "x2": {"datum": {"year":2024,"month":3,"date":10,"utc":true}},
   "y": {"datum": 35.6, "type": "quantitative", "scale": {"padding": 0, "domain": [35.6, 95.8], "range": [308, 280]}, "axis": null}}},
 {"data": {"values": [{}]},
  "mark": {"type": "rule", "color": "#e0e3eb"},
  "encoding": {"x": {"datum": {"year":2017,"month":10,"date":18,"utc":true}, "type": "temporal", "scale": {"type":"utc","padding":0,"domain":[{"year":2017,"month":10,"date":18,"utc":true},{"year":2023,"month":6,"date":25,"utc":true}]}, "axis": null}, "x2": {"datum": {"year":2024,"month":3,"date":10,"utc":true}},
   "y": {"datum": 1.2, "type": "quantitative", "scale": {"padding": 0, "domain": [35.6, 95.8], "range": [308, 280]}, "axis": null}}},
 {"data": {"values": [{}]},
  "mark": {"type": "rule", "color": "#e0e3eb"},
  "encoding": {"x": {"datum": {"year":2023,"month":11,"date":23,"utc":true}, "type": "temporal", "scale": {"type":"utc","padding":0,"domain":[{"year":2017,"month":10,"date":18,"utc":true},{"year":2023,"month":6,"date":25,"utc":true}]}, "axis": null},
   "y": {"datum": 698, "type": "quantitative", "scale": {"padding": 0, "domain": [35.6, 95.8], "range": [308, 280]}, "axis": null}, "y2": {"datum": 1.2}}},
 {"data": {"values": [{}]},
  "mark": {"type": "rule", "color": "#e0e3eb"},
  "encoding": {"x": {"datum": {"year":2024,"month":3,"date":10,"utc":true}, "type": "temporal", "scale": {"type":"utc","padding":0,"domain":[{"year":2017,"month":10,"date":18,"utc":true},{"year":2023,"month":6,"date":25,"utc":true}]}, "axis": null},
   "y": {"datum": 698, "type": "quantitative", "scale": {"padding": 0, "domain": [35.6, 95.8], "range": [308, 280]}, "axis": null}, "y2": {"datum": 1.2}}},
 {"data": {"values": [{}]},
  "mark": {"type": "rule", "color": "#e0e3eb"},
  "encoding": {"x": {"datum": {"year":2023,"month":6,"date":25,"utc":true}, "type": "temporal", "scale": {"type":"utc","padding":0,"domain":[{"year":2017,"month":10,"date":18,"utc":true},{"year":2023,"month":6,"date":25,"utc":true}]}, "axis": null},
   "y": {"datum": 35.6, "type": "quantitative", "scale": {"padding": 0, "domain": [35.6, 95.8], "range": [308, 280]}, "axis": null}, "y2": {"datum": 1.2}}},
 {"data": {"values": [{}]},
  "mark": {"type": "rule", "color": "#e0e3eb"},
  "encoding": {"x": {"datum": {"year":2017,"month":10,"date":18,"utc":true}, "type": "temporal", "scale": {"type":"utc","padding":0,"domain":[{"year":2017,"month":10,"date":18,"utc":true},{"year":2023,"month":6,"date":25,"utc":true}]}, "axis": null},
   "y": {"datum": 35.6, "type": "quantitative", "scale": {"padding": 0, "domain": [35.6, 95.8], "range": [308, 280]}, "axis": null}, "y2": {"datum": 1.2}}},
 {"data": {"values": [{"k": "A"}]},
  "layer": [
   {"mark": {"type": "point", "filled": true, "color": "#f0f3fa", "opacity": 1, "size": 200},
    "encoding": {"x": {"datum": {"year":2023,"month":9,"date":8,"utc":true}, "type": "temporal", "scale": {"type":"utc","padding":0,"domain":[{"year":2017,"month":10,"date":18,"utc":true},{"year":2023,"month":6,"date":25,"utc":true}]}, "axis": null}, "y": {"datum": 18.4, "type": "quantitative", "scale": {"padding": 0, "domain": [35.6, 95.8], "range": [308, 280]}, "axis": null}}},
   {"mark": {"type": "text", "align": "center", "baseline": "middle", "fontSize": 8, "color": "#787b86"},
    "encoding": {"x": {"datum": {"year":2023,"month":9,"date":8,"utc":true}, "type": "temporal", "scale": {"type":"utc","padding":0,"domain":[{"year":2017,"month":10,"date":18,"utc":true},{"year":2023,"month":6,"date":25,"utc":true}]}, "axis": null}, "y": {"datum": 18.4, "type": "quantitative", "scale": {"padding": 0, "domain": [35.6, 95.8], "range": [308, 280]}, "axis": null}, "text": {"field": "k"}}}
  ]},
 {"data": {"values": [{"k": "B"}]},
  "layer": [
   {"mark": {"type": "point", "filled": true, "color": "#f0f3fa", "opacity": 1, "size": 200},
    "encoding": {"x": {"datum": {"year":2024,"month":1,"date":14,"utc":true}, "type": "temporal", "scale": {"type":"utc","padding":0,"domain":[{"year":2017,"month":10,"date":18,"utc":true},{"year":2023,"month":6,"date":25,"utc":true}]}, "axis": null}, "y": {"datum": 18.4, "type": "quantitative", "scale": {"padding": 0, "domain": [35.6, 95.8], "range": [308, 280]}, "axis": null}}},
   {"mark": {"type": "text", "align": "center", "baseline": "middle", "fontSize": 8, "color": "#787b86"},
    "encoding": {"x": {"datum": {"year":2024,"month":1,"date":14,"utc":true}, "type": "temporal", "scale": {"type":"utc","padding":0,"domain":[{"year":2017,"month":10,"date":18,"utc":true},{"year":2023,"month":6,"date":25,"utc":true}]}, "axis": null}, "y": {"datum": 18.4, "type": "quantitative", "scale": {"padding": 0, "domain": [35.6, 95.8], "range": [308, 280]}, "axis": null}, "text": {"field": "k"}}}
  ]}
]},
{"data": {"values": [{}]},
 "mark": {"type": "point", "opacity": 0},
 "encoding": {"x": {"datum": {"year":2020,"month":1,"date":1,"utc":true}, "type": "temporal", "scale": {"type":"utc","padding":0,"domain":[{"year":2017,"month":10,"date":18,"utc":true},{"year":2023,"month":6,"date":25,"utc":true}]},
   "axis": {"orient": "bottom", "values": [{"year":2018,"month":1,"date":1,"utc":true},{"year":2018,"month":6,"date":1,"utc":true},{"year":2019,"month":1,"date":1,"utc":true},{"year":2019,"month":6,"date":1,"utc":true},{"year":2020,"month":1,"date":1,"utc":true},{"year":2020,"month":6,"date":1,"utc":true},{"year":2021,"month":1,"date":1,"utc":true},{"year":2021,"month":6,"date":1,"utc":true},{"year":2022,"month":1,"date":1,"utc":true},{"year":2022,"month":6,"date":1,"utc":true},{"year":2023,"month":1,"date":1,"utc":true},{"year":2023,"month":6,"date":1,"utc":true}],
    "labelExpr": "utcmonth(datum.value) == 0 ? utcFormat(datum.value, '%Y') : 'Jun'",
    "labelFontWeight": {"condition": {"test": "utcmonth(datum.value) == 0", "value": "bold"}, "value": "normal"},
    "labelPadding": 3, "title": "TradingView", "titleX": 15, "titleY": 28.5, "titleAlign": "left", "titleBaseline": "middle", "titleFontSize": 8.5, "titleFontWeight": "normal", "titleColor": "#2a2e39"}}}},
{"data": {"values": [{}]},
 "mark": {"type": "point", "opacity": 0},
 "encoding": {"y": {"datum": 10000, "type": "quantitative", "scale": {"type": "log", "padding": 0, "domain": [1050, 110250], "range": [238.5, 0]},
   "axis": {"orient": "right", "values": [1750, 6000, 10000, 40000, 60000], "format": ".2f", "labelPadding": 6, "title": "USD", "titleAngle": 0, "titleX": 6.5, "titleY": 8, "titleAlign": "left", "titleBaseline": "middle", "titleFontSize": 8.5, "titleFontWeight": "normal", "titleColor": "#131722"}}}},
{"data": {"values": [{}]},
 "mark": {"type": "point", "opacity": 0},
 "encoding": {"y": {"datum": 0, "type": "quantitative", "scale": {"padding": 0, "domain": [-6500, 13200], "range": [279.5, 239.5]},
   "axis": {"orient": "right", "values": [0, 10000], "format": ".2f", "labelPadding": 6, "title": null}}}},
{"data": {"values": [{}]},
 "mark": {"type": "point", "opacity": 0},
 "encoding": {"y": {"datum": 50, "type": "quantitative", "scale": {"padding": 0, "domain": [35.6, 95.8], "range": [308, 280]},
   "axis": {"orient": "right", "values": [50], "format": ".2f", "labelPadding": 6, "title": null}}}},
{"data": {"values": [{}]},
 "mark": {"type": "point", "opacity": 0},
 "encoding": {"y": {"datum": 0, "type": "quantitative", "scale": {"padding": 0, "domain": [-0.000392, 0.000533], "range": [308, 0]},
   "axis": {"orient": "right", "offset": 54, "values": [0.0005, 0.0004, 0.0003, 0.0002, 0.0001, 0, -0.0001], "labelExpr": "datum.value < 0 ? '−0.000' : '0.000'", "labelPadding": 6, "title": null}}}}
]
}
